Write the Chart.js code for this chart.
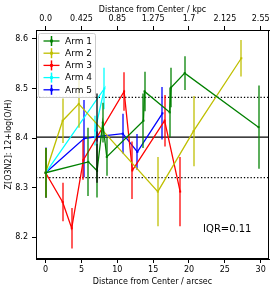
<!DOCTYPE html>
<html><head><meta charset="utf-8">
<script src="https://cdn.jsdelivr.net/npm/chart.js@4.4.0/dist/chart.umd.min.js"></script>
<style>html,body{margin:0;padding:0;background:#fff}</style>
</head><body>
<canvas id="c" width="278" height="292"></canvas>
<script>
// ---- data ----
const arm1X = [0, 5.96, 7.18, 7.97, 8.53, 13.65, 13.8, 17.3, 17.5, 19.4, 29.7];
const arm1Y = [8.33, 8.352, 8.334, 8.431, 8.362, 8.435, 8.494, 8.452, 8.502, 8.531, 8.422];
const arm1E = [0.05, 0.069, 0.054, 0.04, 0.038, 0.055, 0.04, 0.05, 0.04, 0.034, 0.084];

const arm2X = [0, 2.37, 4.62, 15.65, 20.63, 27.3];
const arm2Y = [8.33, 8.435, 8.469, 8.292, 8.414, 8.561];
const arm2E = [0.05, 0.045, 0.048, 0.07, 0.071, 0.037];

const arm3X = [0, 2.37, 3.64, 5.27, 10.95, 12.1, 16.6, 18.77];
const arm3Y = [8.33, 8.271, 8.218, 8.356, 8.494, 8.335, 8.435, 8.292];
const arm3E = [0.05, 0.039, 0.041, 0.04, 0.039, 0.058, 0.052, 0.07];

const arm4X = [0, 8.2, 6.9];
const arm4Y = [8.33, 8.50, 8.415];
const arm4E = [0.05, 0.042, 0.03];

const arm5X = [0, 5.36, 7.14, 10.77, 12.8, 16.3];
const arm5Y = [8.33, 8.399, 8.403, 8.409, 8.372, 8.45];
const arm5E = [0.051, 0.078, 0.01, 0.04, 0.036, 0.053];

const extraX = [7.14];
const extraY = [8.40];
const extraE = [0.09];

const armNames = ['Arm 1', 'Arm 2', 'Arm 3', 'Arm 4', 'Arm 5'];
const armColors = ['#008000', '#bfbf00', '#ff0000', '#00ffff', '#0000ff'];

const medianLevel = 8.402;
const quartiles = [8.320, 8.482];
const iqrText = 'IQR=0.11';

const xTicks = [0, 5, 10, 15, 20, 25, 30];
const kpcLabels = ['0.0', '0.425', '0.85', '1.275', '1.7', '2.125', '2.55'];
const yTicks = [8.2, 8.3, 8.4, 8.5, 8.6];

const X_MIN = -1.34, X_MAX = 31.16, Y_MIN = 8.156, Y_MAX = 8.618;

// ---- build ----
const armsX = [arm1X, arm2X, arm3X, arm4X, arm5X];
const armsY = [arm1Y, arm2Y, arm3Y, arm4Y, arm5Y];
const armsE = [arm1E, arm2E, arm3E, arm4E, arm5E];

const datasets = [];
datasets.push({
  label: '_extra', data: extraX.map((x, i) => ({x, y: extraY[i]})), errs: extraE,
  borderColor: '#000000', backgroundColor: '#000000', showLine: false, pointRadius: 0
});
for (let k = 0; k < 5; k++) {
  datasets.push({
    label: armNames[k],
    data: armsX[k].map((x, i) => ({x, y: armsY[k][i]})),
    errs: armsE[k],
    borderColor: armColors[k], backgroundColor: armColors[k],
    showLine: true, borderWidth: 1.3, pointRadius: 1.4, pointStyle: 'rect',
    pointBorderWidth: 0, tension: 0
  });
}

const FONT = {family: 'DejaVu Sans', size: 8};

const errPlugin = {
  id: 'errbars',
  beforeDatasetDraw(chart, args) {
    const ds = chart.data.datasets[args.index];
    if (!ds.errs) return;
    const xs = chart.scales.x, ys = chart.scales.y, ctx = chart.ctx, a = chart.chartArea;
    ctx.save();
    ctx.beginPath(); ctx.rect(a.left, a.top, a.right - a.left, a.bottom - a.top); ctx.clip();
    ctx.strokeStyle = ds.borderColor; ctx.globalAlpha = 0.85; ctx.lineWidth = 1.5;
    ctx.beginPath();
    ds.data.forEach((p, i) => {
      const e = ds.errs[i]; if (!e) return;
      const px = Math.round(xs.getPixelForValue(p.x));
      ctx.moveTo(px, ys.getPixelForValue(p.y - e));
      ctx.lineTo(px, ys.getPixelForValue(p.y + e));
    });
    ctx.stroke();
    ctx.restore();
  }
};

const refPlugin = {
  id: 'reflines',
  beforeDatasetsDraw(chart) {
    const ys = chart.scales.y, ctx = chart.ctx, a = chart.chartArea;
    ctx.save();
    ctx.strokeStyle = '#000'; ctx.lineWidth = 1.3;
    let y = ys.getPixelForValue(medianLevel);
    ctx.beginPath(); ctx.moveTo(a.left, y); ctx.lineTo(a.right, y); ctx.stroke();
    ctx.setLineDash([1.3, 2]);
    quartiles.forEach(q => {
      const yy = ys.getPixelForValue(q);
      ctx.beginPath(); ctx.moveTo(a.left, yy); ctx.lineTo(a.right, yy); ctx.stroke();
    });
    ctx.restore();
  },
  afterDraw(chart) {
    const ctx = chart.ctx, a = chart.chartArea;
    ctx.save();
    ctx.strokeStyle = '#000'; ctx.lineWidth = 1;
    ctx.strokeRect(a.left + 0.5, a.top + 0.5, a.right - a.left - 1, a.bottom - a.top - 1);
    ctx.fillStyle = '#000';
    ctx.font = '10px "DejaVu Sans"';
    ctx.textBaseline = 'middle'; ctx.textAlign = 'left';
    ctx.fillText(iqrText, a.left + 0.717 * (a.right - a.left), a.top + 0.869 * (a.bottom - a.top));
    const lx = a.left + 2.5, ly = a.top + 3.5, lw = 57, lh = 64;
    ctx.fillStyle = 'rgba(255,255,255,0.8)';
    ctx.strokeStyle = '#cccccc'; ctx.lineWidth = 1;
    ctx.beginPath();
    if (ctx.roundRect) ctx.roundRect(lx, ly, lw, lh, 2); else ctx.rect(lx, ly, lw, lh);
    ctx.fill(); ctx.stroke();
    ctx.font = '9px "DejaVu Sans"';
    for (let k = 0; k < 5; k++) {
      const cy = ly + 7.5 + k * 12.2;
      ctx.strokeStyle = armColors[k]; ctx.fillStyle = armColors[k];
      ctx.lineWidth = 1.3;
      ctx.beginPath(); ctx.moveTo(lx + 5, cy); ctx.lineTo(lx + 21, cy); ctx.stroke();
      ctx.lineWidth = 1.5;
      ctx.beginPath(); ctx.moveTo(lx + 13, cy - 5); ctx.lineTo(lx + 13, cy + 5); ctx.stroke();
      ctx.fillRect(lx + 11.6, cy - 1.4, 2.8, 2.8);
      ctx.fillStyle = '#000';
      ctx.fillText(armNames[k], lx + 26.5, cy + 0.5);
    }
    ctx.restore();
  }
};

const axisCommon = {
  grid: {drawOnChartArea: false, drawTicks: true, tickLength: 4, color: '#000', lineWidth: 1},
  border: {display: true, color: '#000', width: 1}
};

new Chart(document.getElementById('c'), {
  type: 'scatter',
  data: {datasets},
  plugins: [errPlugin, refPlugin],
  options: {
    responsive: false, animation: false, devicePixelRatio: 1,
    layout: {padding: {left: 0, right: 9, top: 0, bottom: 0}},
    plugins: {legend: {display: false}, tooltip: {enabled: false}},
    scales: {
      x: {
        type: 'linear', position: 'bottom', min: X_MIN, max: X_MAX,
        afterBuildTicks: s => { s.ticks = xTicks.map(v => ({value: v})); },
        afterFit: s => { s.height = 33; },
        ...axisCommon,
        ticks: {font: FONT, color: '#000', padding: 2, maxRotation: 0, autoSkip: false},
        title: {display: true, text: 'Distance from Center / arcsec', font: FONT, color: '#000', padding: {top: 0, bottom: 5}}
      },
      x2: {
        type: 'linear', position: 'top', min: X_MIN, max: X_MAX,
        afterBuildTicks: s => { s.ticks = xTicks.map(v => ({value: v})); },
        afterFit: s => { s.height = 30; },
        ...axisCommon,
        ticks: {font: FONT, color: '#000', padding: 2, maxRotation: 0, autoSkip: false,
          callback: (v, i) => kpcLabels[i]},
        title: {display: true, text: 'Distance from Center / kpc', font: FONT, color: '#000', padding: {top: 5, bottom: 0}}
      },
      y: {
        type: 'linear', position: 'left', min: Y_MIN, max: Y_MAX,
        afterBuildTicks: s => { s.ticks = yTicks.map(v => ({value: v})); },
        afterFit: s => { s.width = 36; },
        ...axisCommon,
        ticks: {font: FONT, color: '#000', padding: 4, autoSkip: false, callback: v => v.toFixed(1)},
        title: {display: true, text: 'Z[O3N2]: 12+log(O/H)', font: FONT, color: '#000', padding: {top: 4, bottom: 0}}
      }
    }
  }
});
</script>
</body></html>
